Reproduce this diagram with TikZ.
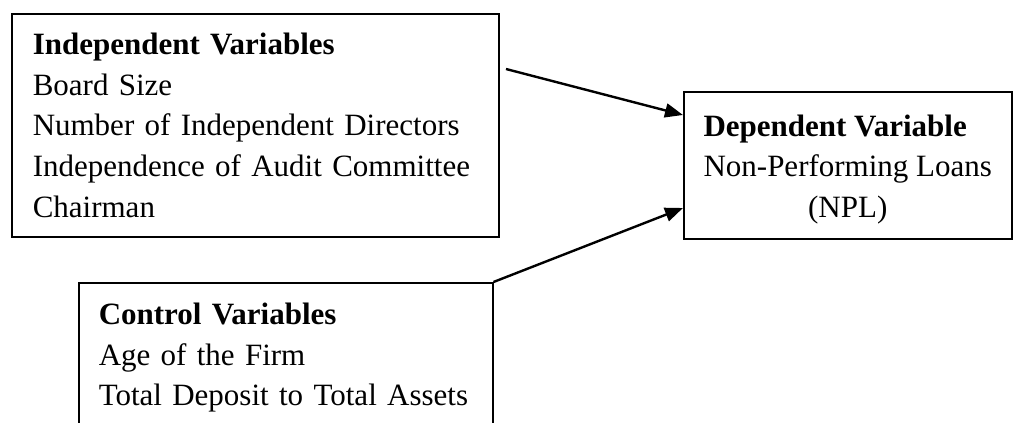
\documentclass[tikz,border=0pt]{standalone}
\usepackage{fontspec}
\setmainfont{Liberation Serif}
\usepackage{calc}
\usetikzlibrary{arrows.meta}

\tikzset{
  varbox/.style = {draw, line width = 0.75pt, anchor = north west, align = left,
    inner ysep = 0pt, font = \fontsize{15.5}{20.4}\selectfont},
  link/.style = {-{Triangle[length = 9pt, width = 7pt]}, line width = 1.2pt}
}

\begin{document}
\begin{tikzpicture}[x = 0.5pt, y = -0.5pt]
    \useasboundingbox (0, 0) rectangle (1013, 423);
    \clip (0, 0) rectangle (1013, 423);

    \node [varbox, inner xsep = 10.5pt, text width = 222.5pt, minimum height = 111.5pt] (indep) at (11, 13)
      {\textbf{Independent Variables}\\ Board Size\\ Number of Independent Directors\\
       Independence of Audit Committee\\ Chairman};
    \node [varbox, minimum width = 164pt, minimum height = 73.5pt] (dep) at (683, 91)
      {\rule{0pt}{15pt}\textbf{Dependent Variable}\\ Non-Performing Loans\\
       \makebox[\widthof{Non-Performing Loans}]{(NPL)}};
    \node [varbox, inner xsep = 10pt, inner ysep = 10pt, text width = 187pt] (ctrl) at (78, 282)
      {\textbf{Control Variables}\\ Age of the Firm\\ Total Deposit to Total Assets};

    \coordinate (src) at (506, 69);
    \draw [link] (src) -- (dep.west |- 0, 115);
    \draw [link] (ctrl.north east) -- (dep.west |- 0, 208);
\end{tikzpicture}
\end{document}
